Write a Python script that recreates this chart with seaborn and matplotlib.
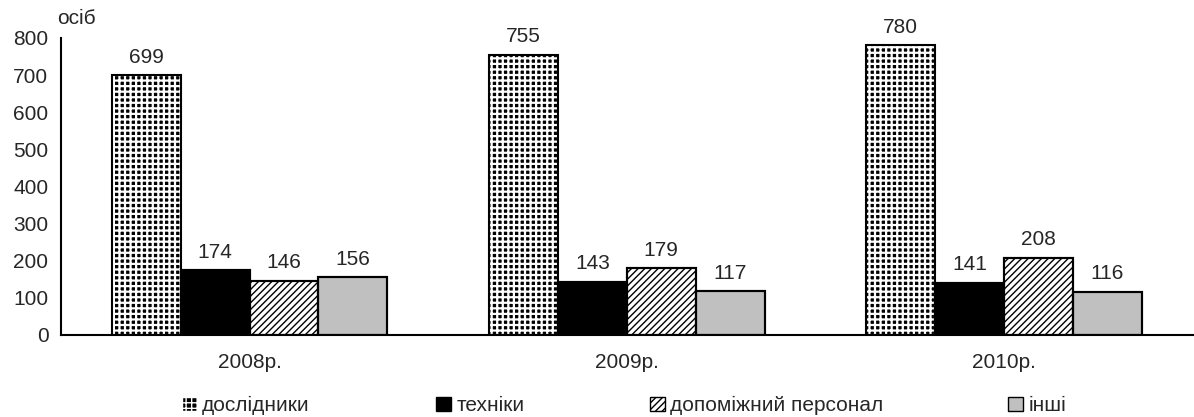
import pandas as pd
import seaborn as sns
import matplotlib.pyplot as plt
from matplotlib.patches import Rectangle

# дані з діаграми
years = ["2008р.", "2009р.", "2010р."]
groups = ["дослідники", "техніки", "допоміжний персонал", "інші"]
doslidnyky = [699, 755, 780]
tekhniky = [174, 143, 141]
dopomizhnyi = [146, 179, 208]
inshi = [156, 117, 116]

data = pd.DataFrame({
    "year": years * 4,
    "group": [g for g in groups for _ in years],
    "value": doslidnyky + tekhniky + dopomizhnyi + inshi,
})

sns.set_style("white")
plt.rcParams["font.family"] = ["Liberation Sans", "DejaVu Sans"]
plt.rcParams["hatch.linewidth"] = 1.0
FS = 15

fig, ax = plt.subplots(figsize=(11.94, 4.17), dpi=100)
fig.subplots_adjust(left=0.051, right=0.999, top=0.909, bottom=0.197)

sns.barplot(data=data, x="year", y="value", hue="group", hue_order=groups,
            palette=["black", "black", "white", "#c0c0c0"], width=0.73,
            edgecolor="black", linewidth=1.5, saturation=1, legend=False, ax=ax)

styles = {
    "дослідники": dict(face="black", hatch="+++", hcol="white", hlw=1.6),
    "техніки": dict(face="black", hatch=None, hcol="black", hlw=1.0),
    "допоміжний персонал": dict(face="white", hatch="/////", hcol="black", hlw=1.0),
    "інші": dict(face="#c0c0c0", hatch=None, hcol="black", hlw=1.0),
}


def set_hlw(patch, lw):
    if hasattr(patch, "set_hatch_linewidth"):
        patch.set_hatch_linewidth(lw)
    else:
        patch._hatch_linewidth = lw


for cont, g in zip(ax.containers, groups):
    st = styles[g]
    for bar in cont:
        bar.set_facecolor(st["face"])
        bar.set_edgecolor(st["hcol"])
        if st["hatch"]:
            bar.set_hatch(st["hatch"])
            set_hlw(bar, st["hlw"])
        # чорна рамка поверх
        ax.add_patch(Rectangle(bar.get_xy(), bar.get_width(), bar.get_height(),
                               fill=False, edgecolor="black", linewidth=1.5, zorder=3))
    ax.bar_label(cont, padding=6, fontsize=FS)

ax.set_ylim(0, 800)
ax.set_yticks(range(0, 801, 100))
ax.set_xlim(-0.5, 2.5)
ax.set_xticks([-0.5, 0.5, 1.5, 2.5], minor=False)
ax.set_xticklabels([])
ax.set_xticks([0, 1, 2], minor=True)
ax.set_xticklabels(years, minor=True)
ax.tick_params(axis="x", which="minor", length=0, pad=13, labelsize=FS)
ax.tick_params(axis="x", which="major", direction="out", length=6, width=1.5, color="black")
ax.tick_params(axis="y", direction="out", length=6, width=1.5, color="black", labelsize=FS, pad=3)
ax.set_xlabel("")
ax.set_ylabel("")
sns.despine(ax=ax)
for s in ["left", "bottom"]:
    ax.spines[s].set_color("black")
    ax.spines[s].set_linewidth(1.5)

ax.text(-0.003, 1.035, "осіб", transform=ax.transAxes, fontsize=FS, ha="left", va="bottom")

# легенда - окремі елементи, як в Excel
leg_x = [182, 436, 650, 1008]
for g, xp in zip(groups, leg_x):
    st = styles[g]
    h = Rectangle((0, 0), 1, 1, facecolor=st["face"], edgecolor=st["hcol"],
                  hatch=st["hatch"], linewidth=1)
    leg = fig.legend([h], [g], loc="center left", bbox_to_anchor=(xp / 1194, 0.027),
                     frameon=False, fontsize=FS, handlelength=0.72, handleheight=0.72,
                     handletextpad=0.25, borderpad=0, borderaxespad=0)

fig.savefig("out.png", dpi=100)
